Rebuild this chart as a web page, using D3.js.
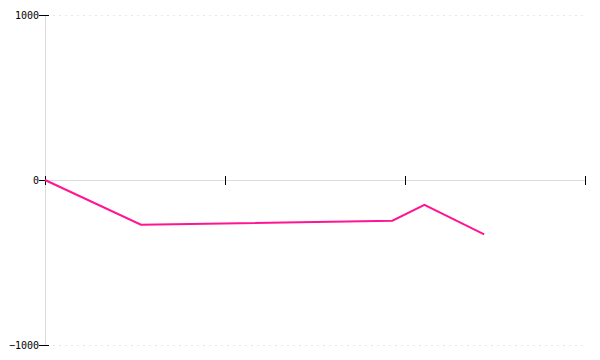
<!DOCTYPE html>
<html>
<head>
<meta charset="utf-8">
<script src="https://cdn.jsdelivr.net/npm/d3@7"></script>
<style>
    body { margin: 0; background: #fff; }
    .axis text { font-family: "DejaVu Sans Mono", monospace; font-size: 10px; fill: #000; }
    .axis .domain { stroke: #dcdcdc; }
    .axis .tick line { stroke: #000; }
    .grid line { stroke: #e6e6e6; stroke-dasharray: 2,4; }
    .line { fill: none; stroke: #ff1493; stroke-width: 2; }
</style>
</head>
<body>
<div id="chart"></div>
<script>
let xValues = [0, 5.33, 19.3, 21.08, 24.4]
let yValues = [0, -271, -247, -150, -329]
let xTicks = [0, 10, 20, 30]
let yTicks = [-1000, 0, 1000]

let margin = { top: 15, right: 15, bottom: 15, left: 45 }
let width = 600 - margin.left - margin.right
let height = 360 - margin.top - margin.bottom

let dataset = xValues.map((x, i) => ({ x: x, y: yValues[i] }))

let svg = d3.select('#chart').append('svg')
    .attr('width', 600)
    .attr('height', 360)
    .append('g')
    .attr('transform', 'translate(' + margin.left + ',' + margin.top + ')')

let xScale = d3.scaleLinear().domain([0, 30]).range([0, 540])
let yScale = d3.scaleLinear().domain([-1000, 1000]).range([height, 0])

// dotted grid at the ends of the y range
svg.append('g')
    .attr('class', 'grid')
    .selectAll('line')
    .data(yTicks.filter(d => d !== 0))
    .enter().append('line')
    .attr('x1', 8)
    .attr('x2', 540)
    .attr('y1', d => Math.round(yScale(d)) + 0.5)
    .attr('y2', d => Math.round(yScale(d)) + 0.5)

let yAxis = svg.append('g')
    .attr('class', 'axis')
    .call(d3.axisLeft(yScale).tickValues(yTicks).tickSize(6).tickSizeOuter(0).tickFormat(d3.format('d')))
yAxis.selectAll('.tick line').attr('x1', -6).attr('x2', 4)
yAxis.selectAll('.tick text').attr('x', -6)

let xAxis = svg.append('g')
    .attr('class', 'axis')
    .attr('transform', 'translate(0,' + yScale(0) + ')')
    .call(d3.axisBottom(xScale).tickValues(xTicks).tickSize(4).tickSizeOuter(0).tickFormat(''))
xAxis.selectAll('.tick line').attr('y1', -4).attr('y2', 5)

let line = d3.line()
    .x(d => xScale(d.x))
    .y(d => yScale(d.y))

svg.append('path')
    .datum(dataset)
    .attr('class', 'line')
    .attr('d', line)
</script>
</body>
</html>
